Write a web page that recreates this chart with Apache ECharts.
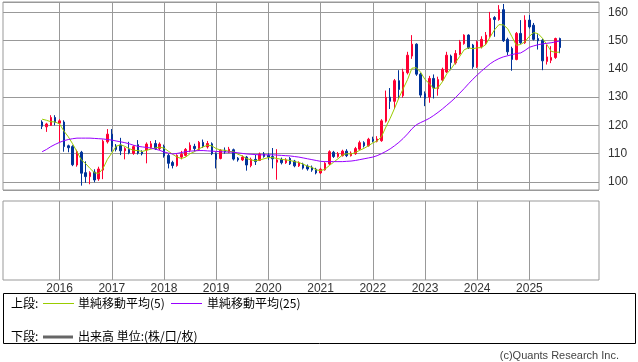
<!DOCTYPE html>
<html><head><meta charset="utf-8">
<script src="https://cdn.jsdelivr.net/npm/echarts@6/dist/echarts.min.js"></script>
<style>html,body{margin:0;padding:0;background:#fff}#c{width:638px;height:362px}</style>
</head><body><div id="c"></div>
<script>
// Monthly candles [open, close, low, high], Sep 2015 .. Aug 2025
const c2015 = [[121.2,119.7,118.7,121.8],[119.5,120.5,117.7,120.9],[120.0,122.8,119.8,123.6],[122.8,121.1,120.0,123.6]];
const c2016 = [[120.8,121.6,114.0,122.2],[121.2,112.5,110.7,121.8],[112.8,112.1,110.5,113.2],[112.5,106.1,105.6,113.0],[106.0,110.7,105.4,111.4],[110.5,103.1,98.7,111.0],[103.3,101.9,99.7,107.3],[101.9,103.3,99.2,103.8],[103.5,100.7,99.9,104.5],[101.1,104.6,100.4,105.4],[104.2,114.4,101.0,115.0],[114.2,116.9,113.6,118.7]];
const c2017 = [[116.9,112.5,110.7,118.7],[112.7,111.5,110.8,113.4],[113.0,111.0,109.5,115.6],[111.0,111.8,108.0,112.3],[111.5,110.3,109.8,114.2],[110.1,112.5,109.6,113.0],[113.2,110.2,109.7,114.8],[110.6,110.0,109.4,111.2],[111.3,113.4,106.6,114.0],[112.2,113.5,111.8,114.5],[113.6,111.8,111.3,114.8],[111.8,113.4,111.2,114.0]];
const c2018 = [[112.5,109.2,108.6,113.2],[109.4,106.6,104.8,110.0],[106.9,105.8,104.8,107.5],[105.8,109.4,105.4,109.8],[108.8,109.8,108.0,111.0],[109.4,111.5,109.0,112.0],[111.2,113.0,110.5,114.0],[112.6,111.8,110.8,113.5],[111.5,114.0,111.0,114.5],[114.0,112.6,112.0,115.0],[112.4,113.6,111.8,114.5],[113.5,110.0,109.5,114.0]];
const c2019 = [[110.0,108.0,104.8,110.5],[108.3,111.2,108.0,111.6],[111.2,110.7,110.0,112.2],[110.5,111.6,110.2,112.4],[111.4,108.1,107.6,111.8],[108.4,107.8,107.2,108.8],[107.8,108.8,107.4,109.4],[108.8,106.0,104.0,109.2],[105.8,108.0,105.2,108.6],[108.0,107.2,106.0,109.6],[107.6,109.9,107.4,110.4],[109.9,109.0,108.6,110.6]];
const c2020 = [[109.4,108.8,107.8,110.2],[109.0,108.2,104.8,112.0],[107.0,107.8,100.8,111.6],[108.0,106.8,106.2,108.6],[106.8,107.8,106.4,108.4],[108.3,106.4,106.0,108.8],[107.4,105.7,105.2,107.8],[105.7,106.8,105.3,107.3],[106.3,104.9,104.4,106.8],[105.6,104.6,104.0,106.2],[105.2,104.2,103.6,105.8],[104.5,103.2,102.7,105.0]];
const c2021 = [[103.2,104.5,102.8,105.0],[104.3,106.6,104.0,107.0],[106.4,110.7,106.0,111.2],[110.5,109.0,108.5,111.0],[109.0,110.0,108.6,110.6],[109.3,110.9,109.0,111.4],[110.9,109.3,108.8,111.6],[109.3,110.2,109.0,110.8],[110.0,111.8,109.6,112.4],[111.6,113.9,111.2,114.6],[113.9,112.8,112.2,114.4],[112.8,115.1,112.5,115.6]];
const c2022 = [[115.1,114.5,114.0,116.0],[114.4,115.2,114.0,116.2],[114.6,121.6,114.2,122.2],[121.5,129.9,121.0,132.3],[130.0,128.5,125.8,133.2],[128.5,135.8,125.8,136.4],[135.8,132.7,129.3,139.5],[130.5,138.9,129.8,140.0],[138.6,144.8,138.0,146.0],[144.5,148.7,143.5,151.9],[148.7,138.1,137.5,149.0],[138.1,130.7,129.8,138.6]];
const c2023 = [[131.2,129.6,126.8,132.0],[130.0,136.6,128.0,137.5],[136.6,133.2,129.5,138.0],[133.0,136.2,130.5,137.2],[136.0,139.8,135.5,140.4],[138.9,144.8,138.5,146.0],[144.5,142.2,139.5,145.0],[142.1,145.4,141.5,146.6],[145.2,149.5,144.8,150.2],[148.9,151.9,148.5,152.2],[151.9,147.5,147.0,152.2],[148.4,140.7,140.0,148.8]];
const c2024 = [[140.7,149.5,140.3,150.0],[147.8,150.4,147.2,151.5],[148.9,151.9,148.4,153.0],[151.5,157.8,151.0,160.1],[158.1,157.4,151.3,158.6],[157.4,160.9,157.0,162.5],[160.9,149.9,149.5,162.9],[150.4,146.0,144.8,151.0],[147.2,143.3,139.3,147.8],[143.3,152.5,143.0,153.0],[152.5,149.2,148.8,157.2],[149.2,157.2,148.8,158.9]];
const c2025 = [[157.2,154.8,154.2,159.0],[155.4,150.4,150.0,156.2],[150.7,149.9,146.8,152.2],[150.1,142.8,139.5,150.6],[142.6,144.2,141.5,148.5],[143.0,144.0,142.0,148.0],[144.0,150.7,143.5,151.0],[150.7,147.5,145.5,151.0]];

// Simple moving averages (Sep 2015 .. Aug 2025)
const ma5 = [122.2,121.8,121.3,121.2,
 120.5,118.0,116.0,113.5,110.7,107.8,106.5,104.8,103.3,103.0,104.8,108.0,
 110.2,112.6,113.2,112.6,111.8,111.2,111.1,110.8,111.2,111.6,112.0,112.3,
 112.0,110.9,109.8,108.8,108.3,108.8,110.0,110.7,111.7,112.4,113.0,112.8,
 111.8,111.3,111.2,110.8,110.7,109.8,109.2,108.3,107.8,107.5,107.8,108.2,
 108.6,108.6,108.3,108.0,107.8,107.6,107.2,106.9,106.3,105.6,105.2,104.3,
 104.0,104.5,105.8,107.0,108.2,109.5,110.0,109.9,110.4,111.2,111.9,112.8,
 113.8,114.5,116.0,119.4,122.5,126.0,129.7,133.0,136.2,140.2,140.4,138.8,
 136.2,134.8,133.0,133.3,135.4,138.2,140.0,142.2,144.4,146.7,147.4,147.1,
 147.4,147.5,148.6,151.3,153.8,155.6,155.5,154.2,151.3,148.3,148.6,149.6,
 151.5,152.8,152.4,150.8,148.6,146.2,145.8,145.9];
const ma25 = [110.7,111.5,112.5,113.3,
 114.0,114.6,115.0,115.3,115.5,115.5,115.5,115.5,115.4,115.3,115.2,115.0,
 114.8,114.5,114.2,113.9,113.5,113.0,112.6,112.4,112.2,112.0,111.6,111.2,
 110.6,110.2,109.9,110.1,110.4,110.7,110.9,111.0,111.1,111.1,111.0,110.9,
 110.8,110.7,110.6,110.6,110.5,110.3,110.1,109.9,109.8,109.7,109.6,109.6,
 109.6,109.6,109.5,109.4,109.3,109.2,109.0,108.8,108.5,108.2,107.9,107.6,
 107.3,107.2,107.2,107.2,107.2,107.2,107.3,107.4,107.6,107.9,108.2,108.5,
 108.8,109.3,110.0,110.8,111.7,112.8,114.0,115.4,117.0,118.8,120.2,121.0,
 121.7,122.5,123.5,124.6,125.8,127.1,128.4,129.8,131.4,133.0,134.7,136.3,
 137.8,139.2,140.5,141.8,142.8,143.6,144.2,144.6,145.0,145.4,145.6,146.5,
 147.6,148.1,148.5,148.8,149.0,149.2,149.5,149.8];

const firstYear = 2014, firstMonth = 12, slotCount = 138, dataStart = 9;
const yearLabels = ['2016','2017','2018','2019','2020','2021','2022','2023','2024','2025'];

const categories = [];
for (let i = 0; i < slotCount; i++) {
  const t = firstYear * 12 + (firstMonth - 1) + i;
  const y = Math.floor(t / 12), m = t % 12 + 1;
  categories.push(y + '/' + (m < 10 ? '0' + m : m));
}
const candles = [].concat(c2015, c2016, c2017, c2018, c2019, c2020, c2021, c2022, c2023, c2024, c2025);
function pad(arr) {
  const out = [];
  for (let i = 0; i < slotCount; i++) {
    const k = i - dataStart;
    out.push(k >= 0 && k < arr.length ? arr[k] : '-');
  }
  return out;
}
const isYearStart = (idx) => {
  const v = categories[idx];
  return v.endsWith('/01') && yearLabels.indexOf(v.slice(0, 4)) >= 0;
};

const UP = '#ff0033', DOWN = '#003399', GRID = '#999999';
const chart = echarts.init(document.getElementById('c'), null, {renderer: 'canvas'});
chart.setOption({
  animation: false,
  backgroundColor: '#ffffff',
  grid: [
    {left: 3, top: 2, width: 596, height: 188, show: true, borderColor: GRID, borderWidth: 1, backgroundColor: 'transparent'},
    {left: 3, top: 201, width: 596, height: 79, show: true, borderColor: GRID, borderWidth: 1, backgroundColor: 'transparent'}
  ],
  xAxis: [
    {type: 'category', gridIndex: 0, data: categories, boundaryGap: false,
     axisLine: {show: false}, axisTick: {show: false}, axisLabel: {show: false},
     splitLine: {show: true, interval: (i) => isYearStart(i), lineStyle: {color: GRID, width: 1}}},
    {type: 'category', gridIndex: 1, data: categories, boundaryGap: false,
     axisLine: {show: false}, axisTick: {show: false},
     axisLabel: {show: true, interval: (i) => isYearStart(i), formatter: (v) => v.slice(0, 4),
       color: '#333', fontSize: 12, fontFamily: 'Liberation Sans', margin: 3},
     splitLine: {show: true, interval: (i) => isYearStart(i), lineStyle: {color: GRID, width: 1}}}
  ],
  yAxis: [
    {type: 'value', gridIndex: 0, position: 'right', min: 97.17, max: 163.6, minInterval: 10, maxInterval: 10, splitNumber: 6,
     axisLine: {show: false}, axisTick: {show: false},
     axisLabel: {show: true, showMinLabel: false, showMaxLabel: false, color: '#333', fontSize: 12, fontFamily: 'Liberation Sans', margin: 9,
       formatter: (v) => (Math.abs(v % 10) < 1e-6 ? String(v) : '')},
     splitLine: {show: true, lineStyle: {color: GRID, width: 1}}},
    {type: 'value', gridIndex: 1, position: 'right', min: 0, max: 1,
     axisLine: {show: false}, axisTick: {show: false}, axisLabel: {show: false}, splitLine: {show: false}}
  ],
  series: [
    {type: 'candlestick', name: '株価', xAxisIndex: 0, yAxisIndex: 0, data: pad(candles), barWidth: 2,
     itemStyle: {color: UP, color0: DOWN, borderColor: UP, borderColor0: DOWN, borderWidth: 1}, z: 2},
    {type: 'line', name: '単純移動平均(5)', xAxisIndex: 0, yAxisIndex: 0, data: pad(ma5), showSymbol: false, symbol: 'none',
     lineStyle: {color: '#99cc00', width: 1}, z: 3},
    {type: 'line', name: '単純移動平均(25)', xAxisIndex: 0, yAxisIndex: 0, data: pad(ma25), showSymbol: false, symbol: 'none',
     lineStyle: {color: '#9900ff', width: 1}, z: 3}
  ],
  graphic: [
    {type: 'rect', shape: {x: 3.5, y: 293.5, width: 632, height: 50}, style: {fill: 'none', stroke: '#000', lineWidth: 1}},
    {type: 'text', x: 11, y: 303, style: {text: '上段:', font: '12px "Noto Sans CJK JP"', fill: '#000', verticalAlign: 'middle'}},
    {type: 'line', shape: {x1: 43, y1: 303.5, x2: 74, y2: 303.5}, style: {stroke: '#99cc00', lineWidth: 1}},
    {type: 'text', x: 78, y: 303, style: {text: '単純移動平均(5)', font: '12px "Noto Sans CJK JP"', fill: '#000', verticalAlign: 'middle'}},
    {type: 'line', shape: {x1: 171, y1: 303.5, x2: 202, y2: 303.5}, style: {stroke: '#9900ff', lineWidth: 1}},
    {type: 'text', x: 207, y: 303, style: {text: '単純移動平均(25)', font: '12px "Noto Sans CJK JP"', fill: '#000', verticalAlign: 'middle'}},
    {type: 'text', x: 11, y: 336, style: {text: '下段:', font: '12px "Noto Sans CJK JP"', fill: '#000', verticalAlign: 'middle'}},
    {type: 'line', shape: {x1: 43, y1: 337, x2: 73, y2: 337}, style: {stroke: '#666666', lineWidth: 3}},
    {type: 'text', x: 78, y: 336, style: {text: '出来高 単位:(株/口/枚)', font: '12px "Noto Sans CJK JP"', fill: '#000', verticalAlign: 'middle'}},
    {type: 'text', x: 619, y: 356, style: {text: '(c)Quants Research Inc.', font: '11px "Liberation Sans"', fill: '#444', align: 'right', verticalAlign: 'middle'}}
  ]
});
</script></body></html>
